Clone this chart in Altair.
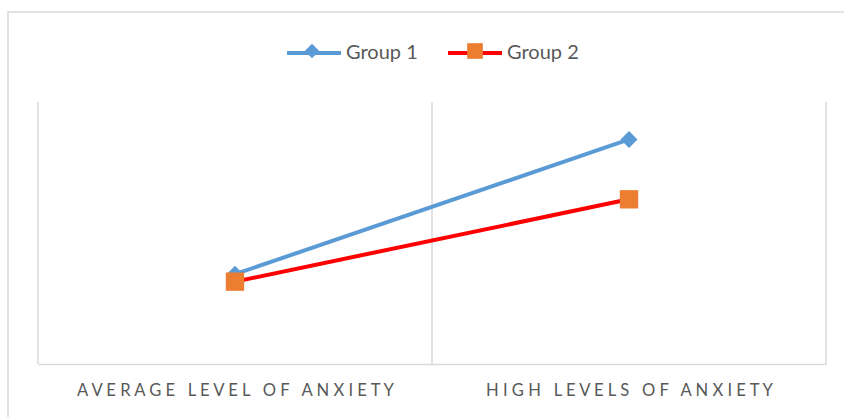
import altair as alt
import pandas as pd

# Chart values
categories = ["Average level of anxiety", "High levels of anxiety"]
series = ["Group 1", "Group 2"]
group1 = [12, 30]
group2 = [11, 22]

# Styling
line_colors = ["#5B9BD5", "#FF0000"]
marker_colors = ["#5B9BD5", "#ED7D31"]
marker_shapes = [
    "M0,-0.27L0.27,0L0,0.27L-0.27,0Z",
    "M-0.29,-0.29L0.29,-0.29L0.29,0.29L-0.29,0.29Z",
]
grid_color = "#d9d9d9"
text_color = "#595959"
font = "Lato"

rows = []
for i, cat in enumerate(categories):
    for name, vals in zip(series, [group1, group2]):
        rows.append({"category": cat, "pos": i + 0.5, "series": name, "value": vals[i]})
df = pd.DataFrame(rows)

bounds = pd.DataFrame({"b": list(range(len(categories) + 1))})


def tracked(text):
    # wide-tracked capitals using non-breaking spaces
    words = ["\u00a0".join(w) for w in text.upper().split(" ")]
    return "\u00a0\u00a0\u00a0".join(words)


label_list = ",".join("'" + tracked(c) + "'" for c in categories)
label_expr = f"[{label_list}][floor(datum.value)]"

W, H = 788, 262
x_scale = alt.Scale(domain=[0, len(categories)], nice=False, zero=False)
y_scale = alt.Scale(domain=[0, 35], nice=False)

x_axis = alt.Axis(
    values=[i + 0.5 for i in range(len(categories))],
    labelExpr=label_expr,
    labelLimit=0,
    labelOverlap=False,
    ticks=False,
    grid=False,
    domainColor=grid_color,
    domainWidth=1.5,
    title=None,
    labelFont=font,
    labelFontSize=16.6,
    labelColor=text_color,
    labelPadding=18,
)

legend_common = dict(
    orient="none",
    legendX=247,
    legendY=-78,
    direction="horizontal",
    title=None,
    symbolSize=2916,
    labelFont=font,
    labelFontSize=20,
    labelOffset=3,
    padding=0,
)

border = alt.Chart(pd.DataFrame({"k": [0]})).mark_rect(
    fill="white", fillOpacity=0, stroke=grid_color, strokeWidth=1.5
).encode(
    x=alt.value(-30), x2=alt.value(W + 40), y=alt.value(-90), y2=alt.value(H + 80)
)

# category boundaries
rules = alt.Chart(bounds).mark_rule(color=grid_color, strokeWidth=1.5).encode(
    x=alt.X("b:Q", scale=x_scale, axis=x_axis)
)

lines = alt.Chart(df).mark_line(strokeWidth=4).encode(
    x=alt.X("pos:Q", scale=x_scale, axis=x_axis),
    y=alt.Y("value:Q", scale=y_scale, axis=None),
    color=alt.Color(
        "series:N",
        scale=alt.Scale(domain=series, range=line_colors),
        legend=alt.Legend(
            symbolType="M-1,0L1,0",
            symbolStrokeWidth=4,
            labelColor=text_color,
            columnPadding=22,
            **legend_common,
        ),
    ),
)

# marker-only legend drawn over the line legend
points = alt.Chart(df).mark_point(filled=True, opacity=1, size=4000, strokeWidth=0).encode(
    x=alt.X("pos:Q", scale=x_scale, axis=x_axis),
    y=alt.Y("value:Q", scale=y_scale, axis=None),
    color=alt.Color(
        "series:N",
        scale=alt.Scale(domain=series, range=marker_colors),
        legend=alt.Legend(
            symbolStrokeWidth=0,
            symbolOpacity=1,
            labelExpr="''",
            columnPadding=106,
            **legend_common,
        ),
    ),
    shape=alt.Shape("series:N", scale=alt.Scale(domain=series, range=marker_shapes)),
)

chart = (
    alt.layer(border, rules, lines, points)
    .resolve_scale(color="independent", shape="independent")
    .properties(
        width=W,
        height=H,
        autosize=alt.AutoSizeParams(type="none"),
        padding={"left": 38, "top": 102, "right": 18, "bottom": 53},
        background="white",
    )
    .configure_view(stroke=None)
)

chart.save("out.html", embed_options={"renderer": "svg", "actions": False})
